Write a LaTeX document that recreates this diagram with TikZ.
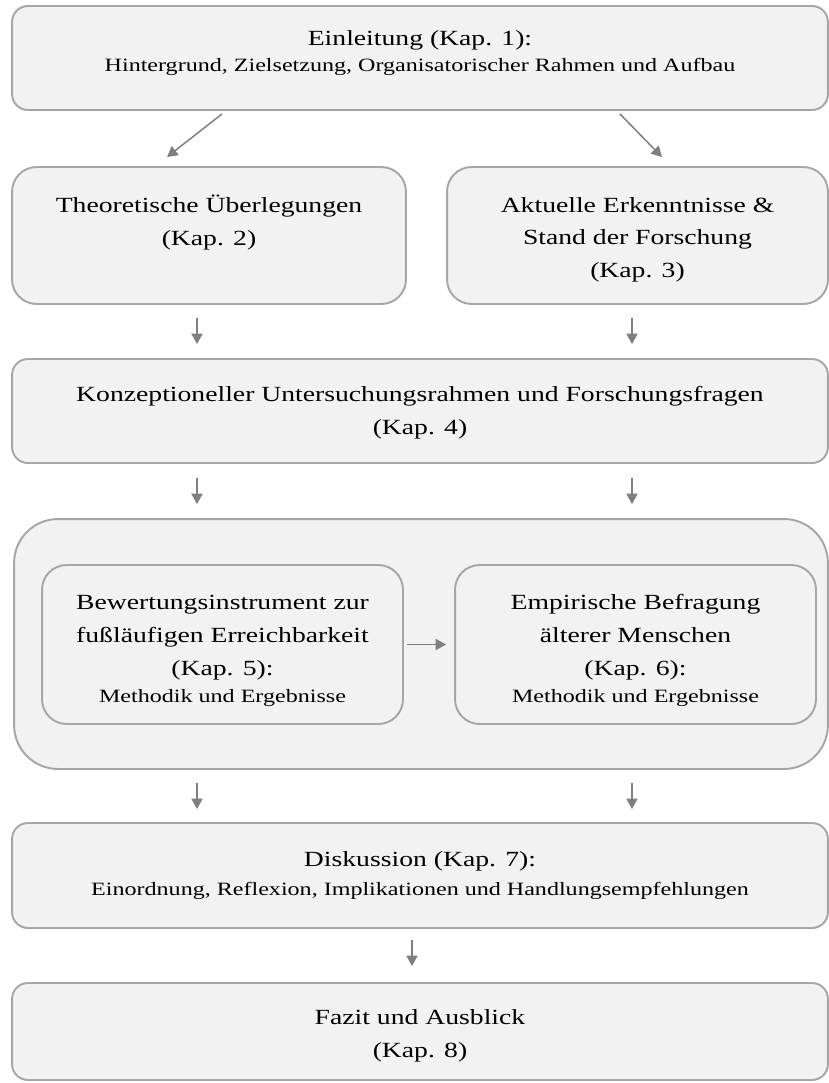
\documentclass[tikz,border=0pt]{standalone}
\usepackage{fontspec}
\setmainfont{Liberation Serif}[FakeStretch=1.28]
\usetikzlibrary{arrows.meta,calc}
\definecolor{boxfill}{HTML}{F2F2F2}
\definecolor{boxline}{HTML}{A6A6A6}
\definecolor{arrowgray}{HTML}{7F7F7F}
\newcommand{\kleintext}{\fontsize{10.7}{13}\selectfont}
\newcommand{\oben}[1]{\rule{0pt}{#1}}
\tikzset{>={Triangle[length=6pt,width=6.4pt]},
  kasten/.style={draw=boxline, fill=boxfill, line width=1.1pt, rounded corners=#1,
    align=center, inner sep=0pt, font=\fontsize{12.3}{18.6}\selectfont},
  kasten/.default=9pt,
  pfeil/.style={->, draw=arrowgray, line width=0.85pt}}

\begin{document}
\begin{tikzpicture}[x=0.02cm, y=-0.02cm]
\useasboundingbox (0,0) rectangle (829,1083);
\node[kasten, minimum width=16.32cm, minimum height=2.08cm, text depth=8pt] (einl) at (420,58)
  {Einleitung (Kap. 1):\\[-3.3pt]{\kleintext Hintergrund, Zielsetzung, Organisatorischer Rahmen und Aufbau}};
\node[kasten=14pt, minimum width=7.88cm, minimum height=2.74cm, text depth=17pt] (theo) at (209,235.5)
  {Theoretische Überlegungen\\(Kap. 2)};
\node[kasten=14pt, minimum width=7.62cm, minimum height=2.74cm, text depth=0pt] (aktu) at (637.5,235.5)
  {\oben{10.6pt}Aktuelle Erkenntnisse \&\\Stand der Forschung\\(Kap. 3)};
\node[kasten, minimum width=16.32cm, minimum height=2.08cm, text depth=0.5pt] (konz) at (420,411)
  {Konzeptioneller Untersuchungsrahmen und Forschungsfragen\\(Kap. 4)};
\node[kasten=25pt, minimum width=16.28cm, minimum height=5cm] (method) at (421,644) {};
\node[kasten=14pt, minimum width=7.22cm, minimum height=3.18cm, text depth=0pt] (bewert) at (222.5,644.5)
  {\oben{13.4pt}Bewertungsinstrument zur\\fußläufigen Erreichbarkeit\\(Kap. 5):\\[-2.8pt]{\kleintext Methodik und Ergebnisse}};
\node[kasten=14pt, minimum width=7.22cm, minimum height=3.18cm, text depth=0pt] (empir) at (635.5,644.5)
  {\oben{13.4pt}Empirische Befragung\\älterer Menschen\\(Kap. 6):\\[-2.8pt]{\kleintext Methodik und Ergebnisse}};
\node[kasten, minimum width=16.32cm, minimum height=2.1cm] (disk) at (420,875.5)
  {Diskussion (Kap. 7):\\[-1.6pt]{\kleintext Einordnung, Reflexion, Implikationen und Handlungsempfehlungen}};
\node[kasten, minimum width=16.32cm, minimum height=1.94cm, text depth=0pt] (fazit) at (420,1031.5)
  {\oben{10.6pt}Fazit und Ausblick\\(Kap. 8)};

\draw[pfeil] ($(einl.south)+(-198,3)$) -- ($(theo.north)+(-42,-9)$);
\draw[pfeil] ($(einl.south)+(200,3)$) -- ($(aktu.north)+(24.5,-9)$);
\draw[pfeil] ($(theo.south)+(-12,13)$) -- ($(konz.north)+(-223,-14)$);
\draw[pfeil] ($(aktu.south)+(-5.5,13)$) -- ($(konz.north)+(212,-14)$);
\draw[pfeil] ($(konz.south)+(-223,14)$) -- ($(method.north)+(-224,-14)$);
\draw[pfeil] ($(konz.south)+(212,14)$) -- ($(method.north)+(211,-14)$);
\draw[pfeil] ($(bewert.east)+(3,0)$) -- ($(empir.west)+(-8,0)$);
\draw[pfeil] ($(method.south)+(-224,13)$) -- ($(disk.north)+(-223,-13)$);
\draw[pfeil] ($(method.south)+(211,13)$) -- ($(disk.north)+(212,-13)$);
\draw[pfeil] ($(disk.south)+(-8,11)$) -- ($(fazit.north)+(-8,-16)$);
\end{tikzpicture}
\end{document}
